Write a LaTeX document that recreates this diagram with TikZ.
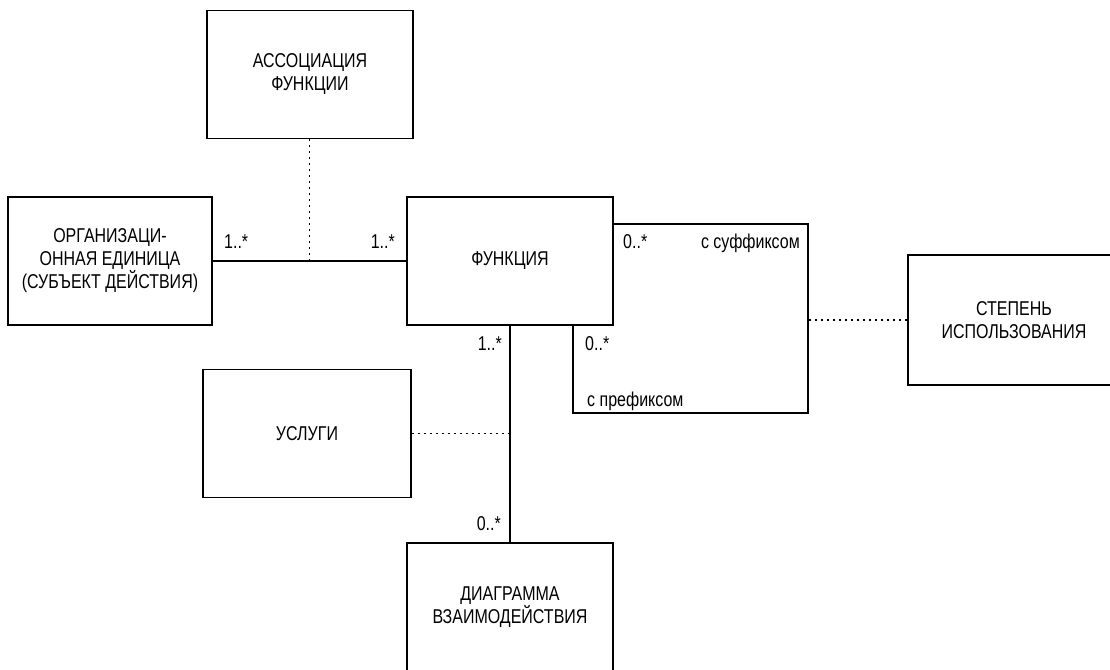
\documentclass[tikz,border=0pt]{standalone}
\usepackage{fontspec}
\setmainfont{Liberation Sans}[FakeStretch=0.8]
\usetikzlibrary{positioning, calc}

\begin{document}
\begin{tikzpicture}[
    x=1pt, y=-1pt,
    font=\fontsize{20}{23}\selectfont,
    entitybox/.style={
        rectangle, draw=black, line width=1.4pt,
        minimum width=206pt, minimum height=128pt,
        align=center, inner sep=0pt
    },
    assocline/.style={line width=1.4pt},
    linkline/.style={line width=1.2pt, dash pattern=on 2pt off 4pt},
    multlabel/.style={inner sep=0pt}
]
    \useasboundingbox (0,0) rectangle (1110,669);

    % classes
    \node[entitybox] (assoc) at (310,74.5) {АССОЦИАЦИЯ\\ФУНКЦИИ};
    \node[entitybox, minimum width=204pt] (orgunit) at (110,261) {ОРГАНИЗАЦИ-\\ОННАЯ ЕДИНИЦА\\(СУБЪЕКТ ДЕЙСТВИЯ)};
    \node[entitybox] (func) at (510,261) {ФУНКЦИЯ};
    \node[entitybox, minimum width=212pt, minimum height=130pt] (usage) at (1014,320) {СТЕПЕНЬ\\ИСПОЛЬЗОВАНИЯ};
    \node[entitybox, minimum width=208pt] (services) at (307,433.5) {УСЛУГИ};
    \node[entitybox] (diagram) at (510,607) {ДИАГРАММА\\ВЗАИМОДЕЙСТВИЯ};

    % associations
    \draw[assocline] (orgunit.east) -- (func.west);
    \coordinate (mid) at ($(orgunit.east)!0.5!(func.west)$);
    \draw[linkline] (mid) -- (mid |- assoc.south);

    \coordinate (loopNE) at (808,224);
    \coordinate (loopSW) at (573,413);
    \draw[assocline] (func.east |- loopNE) -- (loopNE) -- (loopNE |- loopSW)
        -- (loopSW) -- (loopSW |- func.south);
    \draw[linkline] (usage.west) -- (usage.west -| loopNE);

    \draw[assocline] (func.south) -- (diagram.north);
    \draw[linkline] (services.east) -- (services.east -| func.south);

    % multiplicities
    \node[multlabel, anchor=base west] (m1) at (224,248) {1..*};
    \node[multlabel, anchor=base east] (m2) at (395,248) {1..*};
    \node[multlabel, anchor=base west] (m3) at (623,248) {0..*};
    \node[multlabel, anchor=base east] (m4) at (800,248) {с суффиксом};
    \node[multlabel, anchor=base east] (m5) at (502,350) {1..*};
    \node[multlabel, anchor=base west] (m6) at (585,350) {0..*};
    \node[multlabel, anchor=base west] (m7) at (587,406) {с префиксом};
    \node[multlabel, anchor=base east] (m8) at (501,530) {0..*};
\end{tikzpicture}
\end{document}
